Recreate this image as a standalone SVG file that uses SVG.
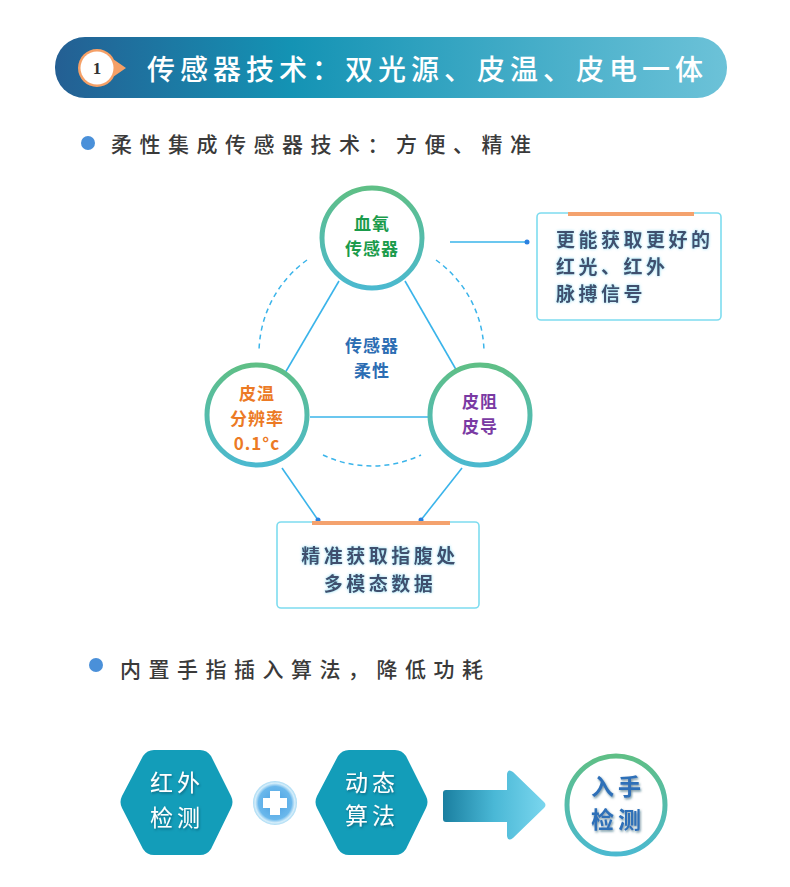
<svg xmlns="http://www.w3.org/2000/svg" width="790" height="887" viewBox="0 0 790 887">
<defs>
<linearGradient id="hdr" x1="0" y1="0" x2="1" y2="0">
<stop offset="0" stop-color="#245f93"/>
<stop offset="0.35" stop-color="#1493b4"/>
<stop offset="1" stop-color="#6cc2d8"/>
</linearGradient>
<linearGradient id="ring" x1="0" y1="0" x2="0" y2="1">
<stop offset="0" stop-color="#5fbf86"/>
<stop offset="1" stop-color="#4bb9cf"/>
</linearGradient>
<linearGradient id="arr" x1="0" y1="0" x2="1" y2="0">
<stop offset="0" stop-color="#1a7fa0"/>
<stop offset="0.5" stop-color="#4ab8d6"/>
<stop offset="1" stop-color="#7ad6ee"/>
</linearGradient>
<radialGradient id="plus" cx="0.5" cy="0.5" r="0.5">
<stop offset="0" stop-color="#4a9ee0"/>
<stop offset="0.75" stop-color="#6ab8ec"/>
<stop offset="0.9" stop-color="#d6eefa"/>
<stop offset="1" stop-color="#a8daf4"/>
</radialGradient>
<filter id="glow" x="-10%" y="-30%" width="120%" height="160%">
<feGaussianBlur in="SourceAlpha" stdDeviation="1.5" result="b"/>
<feFlood flood-color="#7fd6f2" flood-opacity="0.9"/>
<feComposite in2="b" operator="in" result="g"/>
<feMerge><feMergeNode in="g"/><feMergeNode in="SourceGraphic"/></feMerge>
</filter>
<filter id="shadow" x="-20%" y="-20%" width="140%" height="140%">
<feDropShadow dx="1" dy="1.5" stdDeviation="1" flood-color="#0a4a60" flood-opacity="0.6"/>
</filter>
<marker id="dot" markerWidth="6" markerHeight="6" refX="3" refY="3" markerUnits="userSpaceOnUse">
<circle cx="3" cy="3" r="2.5" fill="#2a80e0"/>
</marker>
</defs>
<style>
.cjk{font-family:"Noto Sans CJK SC","Noto Sans",sans-serif;}
.title{font-size:28px;fill:#fff;letter-spacing:5px;font-weight:500;}
.bullet{font-size:21px;fill:#3a3a3a;letter-spacing:7.5px;font-weight:500;}
.ring{fill:#fff;stroke:url(#ring);stroke-width:5;}
.ntxt{font-size:17px;font-weight:bold;text-anchor:middle;letter-spacing:1px;}
.line{stroke:#3ab4ea;stroke-width:1.6;fill:none;}
.dash{stroke:#3ab4ea;stroke-width:1.5;fill:none;stroke-dasharray:5 4;}
.box{fill:#fff;stroke:#7edcef;stroke-width:1.6;}
.bar{stroke:#f4a26e;stroke-width:4;}
.btxt{font-size:19px;font-weight:bold;fill:#3f4f6e;letter-spacing:3.5px;}
.hex{fill:#139db9;}
.htxt{font-size:23px;fill:#fff;text-anchor:middle;letter-spacing:4px;}
</style>
<rect width="790" height="887" fill="#fff"/>

<g id="header">
<rect x="55" y="37" width="672" height="61" rx="30" fill="url(#hdr)"/>
<path d="M97 49 A19 19 0 1 1 97 87 A19 19 0 1 1 97 49 Z M113 59 L126 68 L113 77 Z" fill="#f5a067"/>
<circle cx="97" cy="68" r="16.5" fill="#fff"/>
<text x="97" y="74" font-family="Liberation Serif,serif" font-size="17" font-weight="bold" fill="#333" text-anchor="middle">1</text>
<text x="147" y="80" class="cjk title">传感器技术：双光源、皮温、皮电一体</text>
</g>

<g id="bullet1">
<circle cx="88" cy="143" r="7" fill="#4a90d9"/>
<text x="111" y="152" class="cjk bullet">柔性集成传感器技术：方便、精准</text>
</g>

<g id="connectors">
<line class="line" x1="339" y1="281" x2="285" y2="373"/>
<line class="line" x1="405" y1="281" x2="458" y2="373"/>
<line class="line" x1="310" y1="417" x2="430" y2="417"/>
<path class="dash" d="M307 260 A115 115 0 0 0 259 352"/>
<path class="dash" d="M436 260 A115 115 0 0 1 484 352"/>
<path class="dash" d="M323 455 A115 115 0 0 0 421 455"/>
<line class="line" x1="450" y1="242" x2="527" y2="242" stroke-width="1.2" marker-end="url(#dot)"/>
<line class="line" x1="282" y1="468" x2="318" y2="520" stroke="#3aa0ea" marker-end="url(#dot)"/>
<line class="line" x1="462" y1="468" x2="421" y2="520" stroke="#3aa0ea" marker-end="url(#dot)"/>
</g>

<g id="center-label">
<text x="372" y="352" class="cjk ntxt" fill="#2c6db3">传感器</text>
<text x="372" y="377" class="cjk ntxt" fill="#2c6db3">柔性</text>
</g>

<g id="node-spo2">
<circle class="ring" cx="372" cy="238" r="50"/>
<text x="372" y="230" class="cjk ntxt" fill="#1a9b4b">血氧</text>
<text x="372" y="255" class="cjk ntxt" fill="#1a9b4b">传感器</text>
</g>

<g id="node-temp">
<circle class="ring" cx="257" cy="415" r="50"/>
<text x="257" y="400" class="cjk ntxt" fill="#ec7a25">皮温</text>
<text x="257" y="425" class="cjk ntxt" fill="#ec7a25">分辨率</text>
<text x="257" y="450" class="cjk ntxt" fill="#ec7a25" font-size="17" letter-spacing="0">0.1°c</text>
</g>

<g id="node-eda">
<circle class="ring" cx="480" cy="415" r="50"/>
<text x="480" y="408" class="cjk ntxt" fill="#7a3aa3">皮阻</text>
<text x="480" y="433" class="cjk ntxt" fill="#7a3aa3">皮导</text>
</g>

<g id="box-signal">
<rect class="box" x="537" y="213" width="184" height="107" rx="4"/>
<line class="bar" x1="568" y1="214" x2="694" y2="214"/>
<g filter="url(#glow)">
<text x="556" y="247" class="cjk btxt">更能获取更好的</text>
<text x="556" y="274" class="cjk btxt">红光、红外</text>
<text x="556" y="301" class="cjk btxt">脉搏信号</text>
</g>
</g>

<g id="box-data">
<rect class="box" x="277" y="522" width="202" height="86" rx="4"/>
<line class="bar" x1="312" y1="523" x2="450" y2="523"/>
<g filter="url(#glow)">
<text x="380" y="563" class="cjk btxt" text-anchor="middle">精准获取指腹处</text>
<text x="380" y="591" class="cjk btxt" text-anchor="middle">多模态数据</text>
</g>
</g>

<g id="bullet2">
<circle cx="96" cy="665" r="7" fill="#4a90d9"/>
<text x="120" y="677" class="cjk bullet">内置手指插入算法，降低功耗</text>
</g>

<g id="hex-ir">
<path class="hex" d="M154 750 L200 750 Q207 750 211 756 L231 796 Q234 802 231 808 L211 849 Q207 855 200 855 L154 855 Q147 855 143 849 L122 808 Q119 802 122 796 L143 756 Q147 750 154 750 Z"/>
<g filter="url(#shadow)">
<text x="177" y="791" class="cjk htxt">红外</text>
<text x="177" y="826" class="cjk htxt">检测</text>
</g>
</g>

<g id="plus">
<circle cx="275" cy="803" r="22" fill="url(#plus)"/>
<path d="M270 791 h10 v7 h7 v10 h-7 v7 h-10 v-7 h-7 v-10 h7 Z" fill="#fff"/>
</g>

<g id="hex-algo">
<path class="hex" d="M349 750 L395 750 Q402 750 406 756 L426 796 Q429 802 426 808 L406 849 Q402 855 395 855 L349 855 Q342 855 338 849 L317 808 Q314 802 317 796 L338 756 Q342 750 349 750 Z"/>
<g filter="url(#shadow)">
<text x="372" y="791" class="cjk htxt">动态</text>
<text x="372" y="824" class="cjk htxt">算法</text>
</g>
</g>

<g id="arrow">
<path d="M446 790 L507 790 L507 774 Q508 768 513 772 L544 802 Q547 805 544 808 L513 838 Q508 842 507 836 L507 822 L446 822 Q443 822 443 819 L443 793 Q443 790 446 790 Z" fill="url(#arr)"/>
</g>

<g id="node-result">
<circle class="ring" cx="616" cy="805" r="49" stroke-width="4"/>
<g filter="url(#shadow)">
<text x="618" y="795" class="cjk htxt" font-size="21" font-weight="bold" style="fill:#2f6fb8">入手</text>
<text x="618" y="828" class="cjk htxt" font-size="21" font-weight="bold" style="fill:#2f6fb8">检测</text>
</g>
</g>
</svg>
